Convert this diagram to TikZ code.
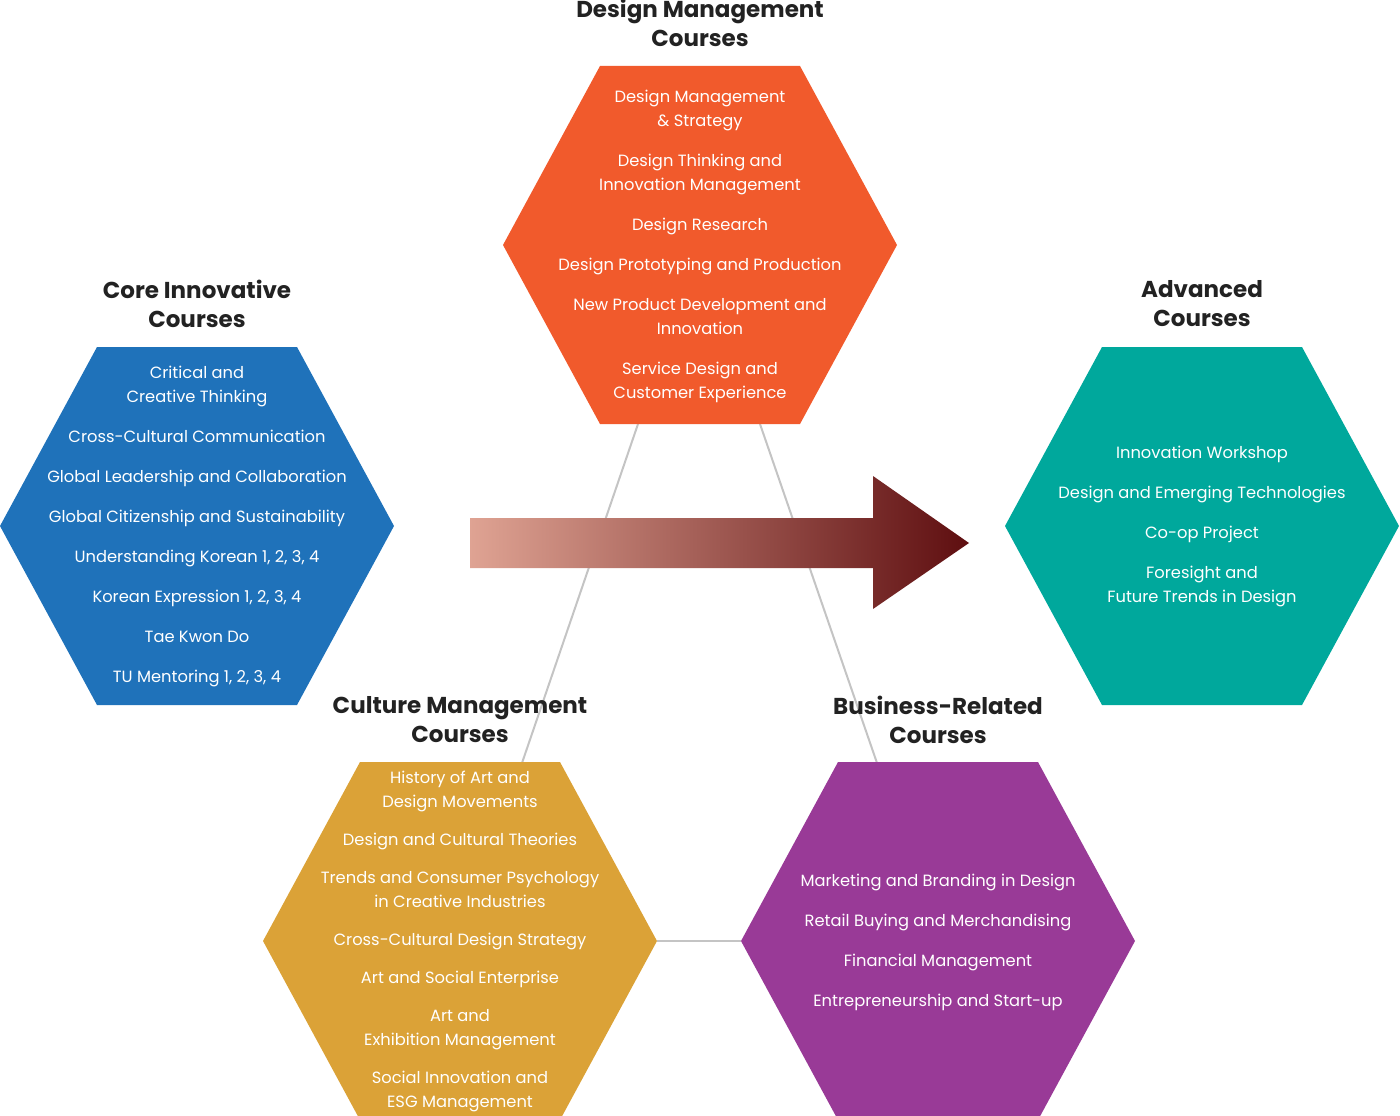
\documentclass[tikz,border=0pt]{standalone}
\usepackage{fontspec}
\setmainfont{Poppins}
\usetikzlibrary{positioning}

\definecolor{dmorange}{HTML}{F15A2C}
\definecolor{ciblue}{HTML}{1F72BA}
\definecolor{adteal}{HTML}{00A89C}
\definecolor{cmgold}{HTML}{DBA237}
\definecolor{brpurple}{HTML}{993A97}
\definecolor{linkgray}{HTML}{C4C4C4}
\definecolor{titlegray}{HTML}{222222}
\definecolor{arrowlight}{HTML}{DFA393}
\definecolor{arrowdark}{HTML}{5E0E10}

\tikzset{
  link/.style={draw=linkgray,line width=2pt},
  item/.style={text=white,align=center,inner sep=0pt,
    font=\fontsize{16.3}{24}\selectfont},
  heading/.style={text=titlegray,align=center,inner sep=0pt,
    font=\bfseries\fontsize{23}{29}\selectfont}
}

% flat top hexagon round a named centre
\newcommand{\hexagon}[2]{\fill[#2,shift={(#1)}] (-197,0) -- (-100,-179)
  -- (100,-179) -- (197,0) -- (100,179) -- (-100,179) -- cycle;}

\begin{document}
\begin{tikzpicture}[x=1pt,y=-1pt]
  \useasboundingbox (0,0) rectangle (1400,1116);
  % centres
  \coordinate (dm) at (700,245);
  \coordinate (ci) at (197,526);
  \coordinate (ad) at (1202,526);
  \coordinate (cm) at (460,941);
  \coordinate (br) at (938,941);
  % ends of the grey links
  \coordinate (dm-sw) at (638,424); \coordinate (cm-ne) at (522,763);
  \coordinate (dm-se) at (760,424); \coordinate (br-nw) at (877,763);
  \coordinate (cm-e) at (657,941); \coordinate (br-w) at (741,941);
  \draw[link] (dm-sw) -- (cm-ne);
  \draw[link] (dm-se) -- (br-nw);
  \draw[link] (cm-e) -- (br-w);

  % big arrow
  \shade[left color=arrowlight,right color=arrowdark] (470,518) -- (873,518)
    -- (873,476) -- (969,543) -- (873,609) -- (873,568) -- (470,568) -- cycle;

  \hexagon{dm}{dmorange}
  \hexagon{ci}{ciblue}
  \hexagon{ad}{adteal}
  \hexagon{cm}{cmgold}
  \hexagon{br}{brpurple}

  \node[heading] (dm-title) at ([yshift=43.5pt]700,66) {Design Management\\Courses};
  \node[heading] (ci-title) at ([yshift=43.5pt]197,347) {Core Innovative\\Courses};
  \node[heading] (ad-title) at ([yshift=43.5pt]1202,347) {Advanced\\Courses};
  \node[heading] (cm-title) at ([yshift=43pt]460,763) {Culture Management\\Courses};
  \node[heading] (br-title) at ([yshift=43.5pt]938,763) {Business-Related\\Courses};

  \node[item] (dm-list) at ([yshift=-1pt]dm) {Design Management\\\& Strategy\\[16pt]
    Design Thinking and\\Innovation Management\\[16pt]
    Design Research\\[16pt]
    Design Prototyping and Production\\[16pt]
    New Product Development and\\Innovation\\[16pt]
    Service Design and\\Customer Experience};
  \node[item] (ci-list) at (ci) {Critical and\\Creative Thinking\\[16pt]
    Cross-Cultural Communication\\[16pt]
    Global Leadership and Collaboration\\[16pt]
    Global Citizenship and Sustainability\\[16pt]
    Understanding Korean 1, 2, 3, 4\\[16pt]
    Korean Expression 1, 2, 3, 4\\[16pt]
    Tae Kwon Do\\[16pt]
    TU Mentoring 1, 2, 3, 4};
  \node[item] (ad-list) at (ad) {Innovation Workshop\\[16pt]
    Design and Emerging Technologies\\[16pt]
    Co-op Project\\[16pt]
    Foresight and\\Future Trends in Design};
  \node[item] (cm-list) at (cm) {History of Art and\\Design Movements\\[14pt]
    Design and Cultural Theories\\[14pt]
    Trends and Consumer Psychology\\in Creative Industries\\[14pt]
    Cross-Cultural Design Strategy\\[14pt]
    Art and Social Enterprise\\[14pt]
    Art and\\Exhibition Management\\[14pt]
    Social Innovation and\\ESG Management};
  \node[item] (br-list) at ([yshift=-1pt]br) {Marketing and Branding in Design\\[16pt]
    Retail Buying and Merchandising\\[16pt]
    Financial Management\\[16pt]
    Entrepreneurship and Start-up};
\end{tikzpicture}
\end{document}
